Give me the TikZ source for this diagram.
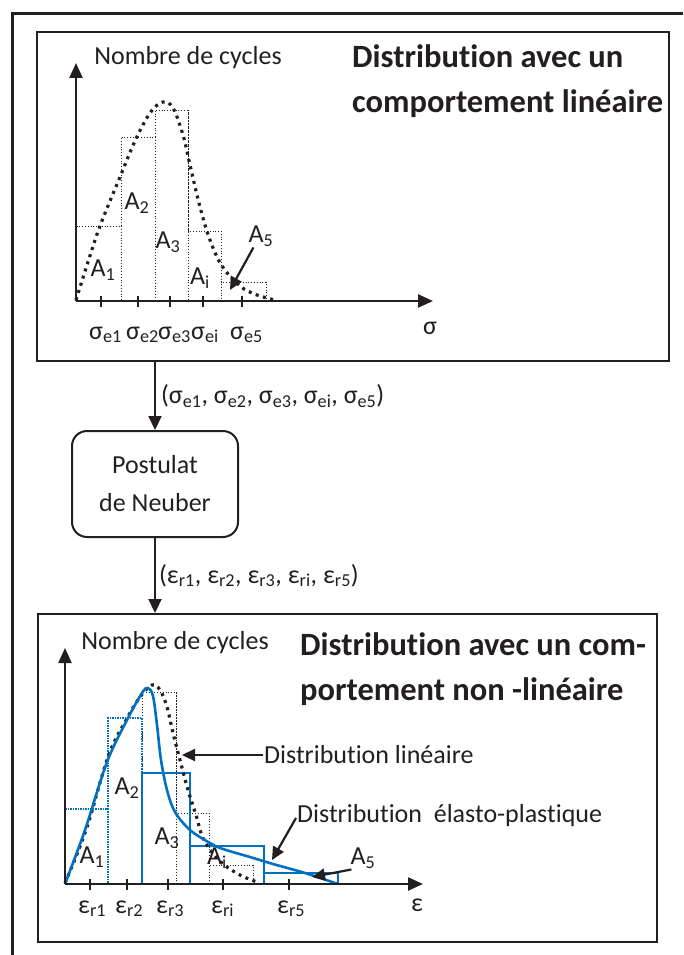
\documentclass[tikz,border=0pt]{standalone}
\usepackage{fontspec}
\setmainfont{Carlito}[Ligatures=NoCommon]
\usetikzlibrary{arrows.meta,positioning}

\definecolor{ink}{RGB}{35,31,32}
\definecolor{epblue}{RGB}{0,112,192}

\tikzset{
  axis/.style={line width=2.4pt, draw=ink, -{Triangle[length=15pt,width=13pt]}},
  tickmark/.style={line width=1.6pt, draw=ink},
  lincurve/.style={line width=3.2pt, draw=ink, dash pattern=on 3pt off 4.5pt},
  linbar/.style={line width=0.9pt, draw=ink, dash pattern=on 1pt off 1.8pt},
  epbar/.style={line width=1.3pt, draw=epblue},
  epcurve/.style={line width=2.6pt, draw=epblue},
  pointer/.style={line width=2.2pt, draw=ink, -{Triangle[length=13pt,width=12pt]}},
  flow/.style={line width=2.2pt, draw=ink, -{Triangle[length=14pt,width=13pt]}},
  panel/.style={draw=ink, line width=2pt, inner sep=0pt},
  lbl/.style={font=\fontsize{26}{30}\selectfont, text=ink, inner sep=1pt},
  paneltitle/.style={font=\fontsize{32.5}{45}\selectfont\bfseries, text=ink, align=left, inner sep=0pt},
  neuberbox/.style={draw=ink, line width=2pt, rounded corners=15pt, minimum width=166pt, minimum height=106pt, align=center, font=\fontsize{26}{38}\selectfont, text=ink}
}

\begin{document}
\begin{tikzpicture}[x=1pt, y=-1pt, line cap=butt, line join=miter]
  \useasboundingbox (0,0) rectangle (683,955);
  \draw[line width=3pt, ink] (12,955) -- (12,14) -- (683,14);

  \node[panel, minimum width=632pt, minimum height=329pt] (toppanel) at (353,196.5) {};
  \node[panel, minimum width=619pt, minimum height=328pt] (botpanel) at (347.5,778) {};
  \node[neuberbox] (neuber) at (155,484) {Postulat\\de Neuber};

  \draw[flow] (toppanel.south -| neuber.north) -- (neuber.north)
    node[midway, right=4pt, lbl] (sigmalist) {(σ\textsubscript{e1}, σ\textsubscript{e2}, σ\textsubscript{e3}, σ\textsubscript{ei}, σ\textsubscript{e5})};
  \draw[flow] (neuber.south) -- (botpanel.north -| neuber.south)
    node[midway, right=2pt, lbl] (epslist) {(ε\textsubscript{r1}, ε\textsubscript{r2}, ε\textsubscript{r3}, ε\textsubscript{ri}, ε\textsubscript{r5})};

  % distribution lineaire
  \coordinate (O1) at (76,301);
  \node[lbl] (ylbl1) at (188,58) {Nombre de cycles};
  \node[paneltitle, anchor=north west] (toptitle) at (352,44) {Distribution avec un\\comportement linéaire};
  \draw[linbar] (O1) |- (121,226) -- (121,301);
  \draw[linbar] (121,226) |- (155,137) -- (155,301);
  \draw[linbar] (155,137) |- (188,110) -- (188,301);
  \draw[linbar] (188,110) |- (221,231) -- (221,301);
  \draw[linbar] (221,231) |- (266,282) -- (266,301);
  \draw[lincurve] plot[smooth, tension=0.6] coordinates {(76,300) (88,262) (100,226) (120,177) (135,141) (150,113) (163,102) (173,108) (183,135) (190,165) (200,207) (210,240) (222,266) (240,286) (257,295) (275,300)};
  \draw[axis] (O1) -- (433,301);
  \draw[axis] (O1) -- (76,63);
  \foreach \x/\s in {101/e1, 138/e2, 170/e3, 203/ei, 242/e5} {
    \draw[tickmark] (\x,296) -- (\x,307);
    \node[lbl, anchor=base west] (sig\s) at (\x-13,339) {σ\textsubscript{\s}};
  }
  \node[lbl] (sigaxis) at (430,328) {σ};
  \node[lbl] (a1t) at (103,270) {A\textsubscript{1}};
  \node[lbl] (a2t) at (137,203) {A\textsubscript{2}};
  \node[lbl] (a3t) at (168,242) {A\textsubscript{3}};
  \node[lbl] (ait) at (200,278) {A\textsubscript{i}};
  \node[lbl] (a5t) at (261,236) {A\textsubscript{5}};
  \draw[pointer] ([xshift=6pt]a5t.south west) -- (230,290);

  % distribution elasto-plastique
  \coordinate (O2) at (65,884);
  \node[lbl] (ylbl2) at (175,643) {Nombre de cycles};
  \node[paneltitle, anchor=north west] (bottitle) at (300,632) {Distribution avec un com-\\portement non -linéaire};
  \draw[linbar] (142,884) |- (176,692) -- (176,884);
  \draw[linbar] (176,692) |- (209,813) -- (209,884);
  \draw[linbar] (209,813) |- (253,865) -- (253,884);
  \draw[epbar, dash pattern=on 1.5pt off 1pt] (O2) |- (108,809) -- (108,884);
  \draw[epbar, dash pattern=on 1.5pt off 1pt] (108,809) |- (142,718) -- (142,884);
  \draw[epbar] (142,884) |- (190,773) -- (190,884);
  \draw[epbar] (190,773) |- (264,846) -- (264,884);
  \draw[epbar] (264,846) |- (338,873) -- (338,884);
  \draw[lincurve] plot[smooth, tension=0.6] coordinates {(65,883) (86,830) (108,757) (125,722) (140,697) (152,685) (160,690) (167,707) (173,733) (180,760) (188,790) (196,815) (203,838) (215,856) (227,867) (242,876) (257,882)};
  \draw[epcurve] plot[smooth, tension=0.55] coordinates {(65,884) (85,830) (107,762) (127,720) (142,693) (148,688) (153,696) (157,725) (161,760) (167,790) (175,812) (190,830) (210,843) (223,849) (250,857) (273,864) (305,873) (338,884)};
  \draw[axis] (O2) -- (423,884);
  \draw[axis] (O2) -- (65,648);
  \foreach \x/\s in {90/r1, 127/r2, 168/r3, 223/ri, 289/r5} {
    \draw[tickmark] (\x,879) -- (\x,890);
    \node[lbl, anchor=base west] (eps\s) at (\x-13,913) {ε\textsubscript{\s}};
  }
  \node[lbl] (epsaxis) at (417,905) {ε};
  \node[lbl] (a1b) at (92,857) {A\textsubscript{1}};
  \node[lbl] (a2b) at (127,788) {A\textsubscript{2}};
  \node[lbl] (a3b) at (167,838) {A\textsubscript{3}};
  \node[lbl] (aib) at (217,858) {A\textsubscript{i}};
  \node[lbl] (a5b) at (363,858) {A\textsubscript{5}};
  \node[lbl, anchor=west] (linlbl) at (263,755) {Distribution linéaire};
  \node[lbl, anchor=west] (eplbl) at (296,816) {Distribution~ élasto-plastique};
  \draw[pointer] (linlbl.west) -- (182,755);
  \draw[pointer] ([yshift=-2pt]eplbl.west) -- (272,860);
  \draw[pointer] ([xshift=2pt]a5b.south west) -- (312,877);
\end{tikzpicture}
\end{document}
